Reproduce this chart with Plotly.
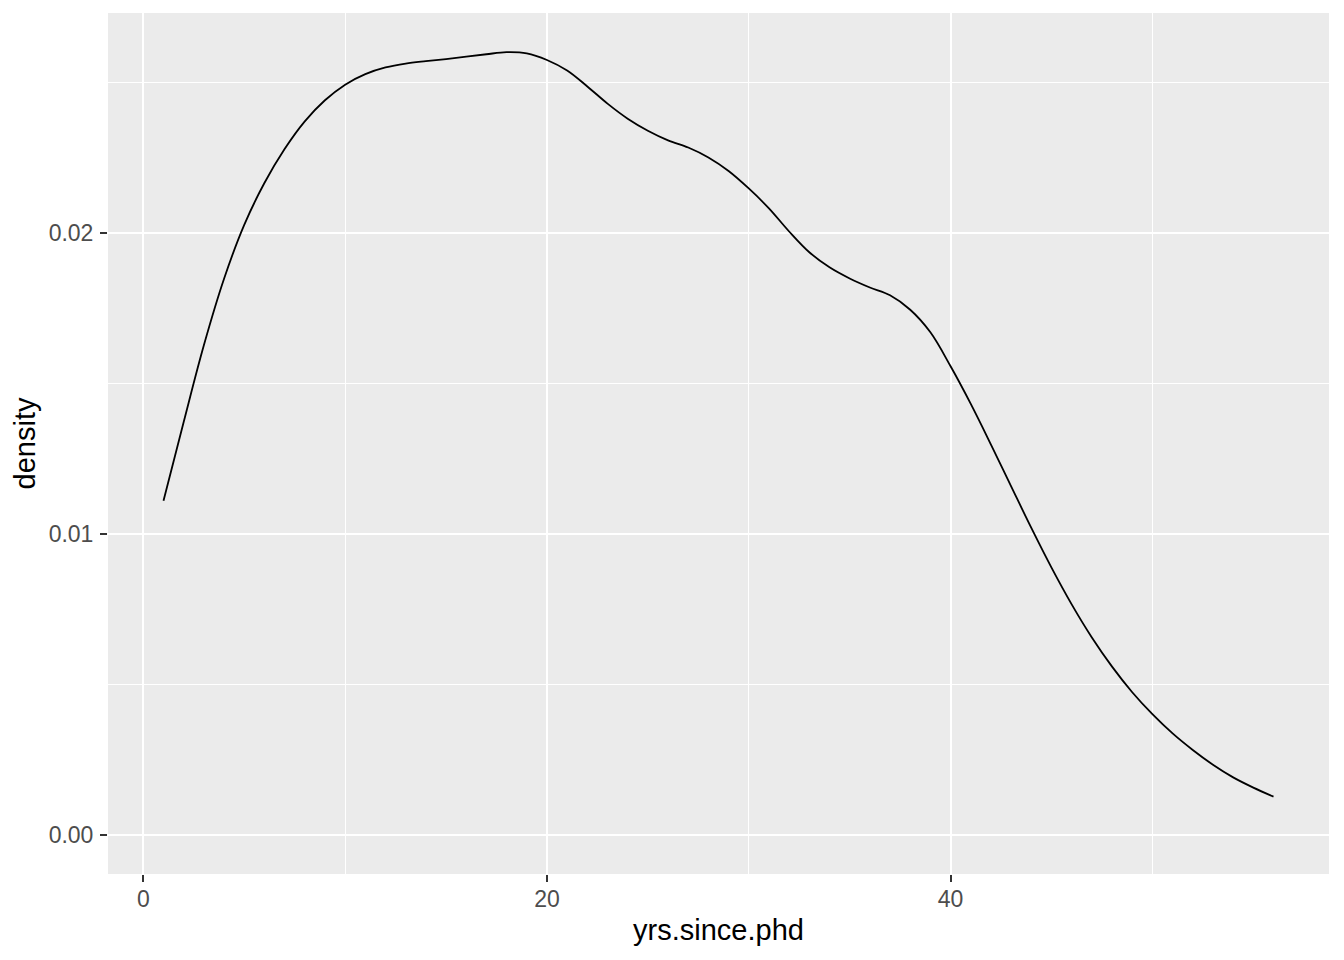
import plotly.graph_objects as go

yrs_since_phd = list(range(1, 57))
density = [
    0.01110, 0.01372, 0.01627, 0.01848, 0.02027, 0.02166, 0.02279, 0.02371,
    0.02441, 0.02493, 0.02528, 0.02550, 0.02563, 0.02571, 0.02578, 0.02586,
    0.02594, 0.02601, 0.02597, 0.02575, 0.02540, 0.02487, 0.02430, 0.02380,
    0.02340, 0.02308, 0.02284, 0.02251, 0.02206, 0.02148, 0.02082, 0.02005,
    0.01936, 0.01886, 0.01849, 0.01819, 0.01793, 0.01745, 0.01670, 0.01557,
    0.01432, 0.01297, 0.01158, 0.01020, 0.00888, 0.00766, 0.00656, 0.00559,
    0.00474, 0.00401, 0.00337, 0.00282, 0.00233, 0.00191, 0.00157, 0.00127,
]
x_ticks = [0, 20, 40]
x_minor = [10, 30, 50]
y_ticks = [0.00, 0.01, 0.02]
y_minor = [0.005, 0.015, 0.025]
y_tick_labels = ["0.00", "0.01", "0.02"]

fig = go.Figure()
fig.add_trace(go.Scatter(
    x=yrs_since_phd, y=density, mode="lines",
    line=dict(color="black", width=1.8, shape="spline", smoothing=1.0),
    showlegend=False, hoverinfo="skip",
))

font_family = "Liberation Sans, Arial, sans-serif"
xmin, xmax = min(yrs_since_phd), max(yrs_since_phd)
xpad = (xmax - xmin) * 0.05
ymax = max(density)
ypad = ymax * 0.05

fig.update_layout(
    width=1344, height=960,
    margin=dict(l=100, r=23, t=5, b=94),
    paper_bgcolor="white", plot_bgcolor="#EBEBEB",
    font=dict(family=font_family),
    xaxis=dict(
        range=[xmin - xpad, xmax + xpad],
        tickmode="array", tickvals=x_ticks, ticktext=[str(v) for v in x_ticks],
        ticks="outside", ticklen=7, tickwidth=2, tickcolor="#333333",
        tickfont=dict(size=23, color="#4D4D4D", family=font_family),
        ticklabelstandoff=-3,
        showgrid=True, gridcolor="white", gridwidth=2,
        minor=dict(tickmode="array", tickvals=x_minor, showgrid=True,
                   gridcolor="white", gridwidth=1, ticks=""),
        zeroline=False, showline=False,
        title=dict(text="yrs.since.phd", font=dict(size=29, color="black", family=font_family), standoff=9),
    ),
    yaxis=dict(
        range=[-ypad, ymax + ypad],
        tickmode="array", tickvals=y_ticks, ticktext=y_tick_labels,
        ticks="outside", ticklen=7, tickwidth=2, tickcolor="#333333",
        tickfont=dict(size=23, color="#4D4D4D", family=font_family),
        ticklabelstandoff=2,
        showgrid=True, gridcolor="white", gridwidth=2,
        minor=dict(tickmode="array", tickvals=y_minor, showgrid=True,
                   gridcolor="white", gridwidth=1, ticks=""),
        zeroline=False, showline=False,
        title=dict(text="density", font=dict(size=29, color="black", family=font_family), standoff=4),
    ),
)

fig.write_html("out.html")
